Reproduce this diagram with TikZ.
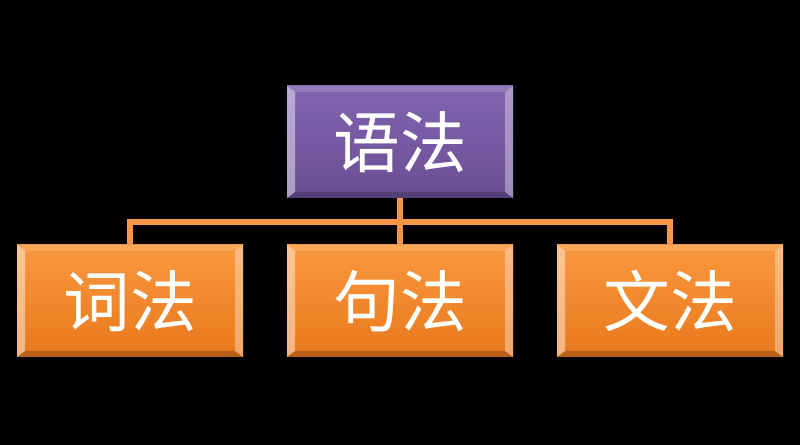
\documentclass[tikz,border=0pt]{standalone}
\usepackage{fontspec}
\newfontfamily\cjk{Noto Sans CJK SC}
\usepackage{tikz}

\definecolor{gfpurple}{RGB}{130,100,176}
\definecolor{gfpurpledark}{RGB}{106,78,148}
\definecolor{gforange}{RGB}{250,152,62}
\definecolor{gforangedark}{RGB}{232,120,28}
\definecolor{gflink}{RGB}{247,150,70}

\tikzset{
  bevel/.style={path picture={
      \fill[white,opacity=0.45] (path picture bounding box.north west) -- (path picture bounding box.south west) -- ([xshift=6pt,yshift=4.5pt]path picture bounding box.south west) -- ([xshift=6pt,yshift=-4.5pt]path picture bounding box.north west) -- cycle;
      \fill[white,opacity=0.35] (path picture bounding box.north east) -- (path picture bounding box.south east) -- ([xshift=-6pt,yshift=4.5pt]path picture bounding box.south east) -- ([xshift=-6pt,yshift=-4.5pt]path picture bounding box.north east) -- cycle;
      \fill[white,opacity=0.15] (path picture bounding box.north west) -- (path picture bounding box.north east) -- ([xshift=-6pt,yshift=-4.5pt]path picture bounding box.north east) -- ([xshift=6pt,yshift=-4.5pt]path picture bounding box.north west) -- cycle;
      \fill[black,opacity=0.2] (path picture bounding box.south west) -- (path picture bounding box.south east) -- ([xshift=-6pt,yshift=4.5pt]path picture bounding box.south east) -- ([xshift=6pt,yshift=4.5pt]path picture bounding box.south west) -- cycle;
    }},
  gfbox/.style={bevel, minimum width=169.5pt, minimum height=84pt, inner sep=0pt,
    text=white, font=\cjk\fontsize{50}{54}\selectfont},
  headbox/.style={gfbox, top color=gfpurple, bottom color=gfpurpledark},
  partbox/.style={gfbox, top color=gforange, bottom color=gforangedark},
  link/.style={draw=gflink, line width=3.8pt}
}

\begin{document}
\begin{tikzpicture}[x=0.75pt,y=0.75pt,yscale=-1,xscale=1]
  \fill[black] (0,0) rectangle (800,445);
  % boxes
  \node[headbox] (yufa) at (400,142) {语法};
  \node[partbox] (cifa) at (130,301) {词法};
  \node[partbox] (jufa) at (400,301) {句法};
  \node[partbox] (wenfa) at (670,301) {文法};
  % connectors
  \coordinate (hub) at (400,222);
  \draw[link] (yufa.south) -- (jufa.north);
  \draw[link] (hub) -| (cifa.north);
  \draw[link] (hub) -| (wenfa.north);
\end{tikzpicture}
\end{document}
